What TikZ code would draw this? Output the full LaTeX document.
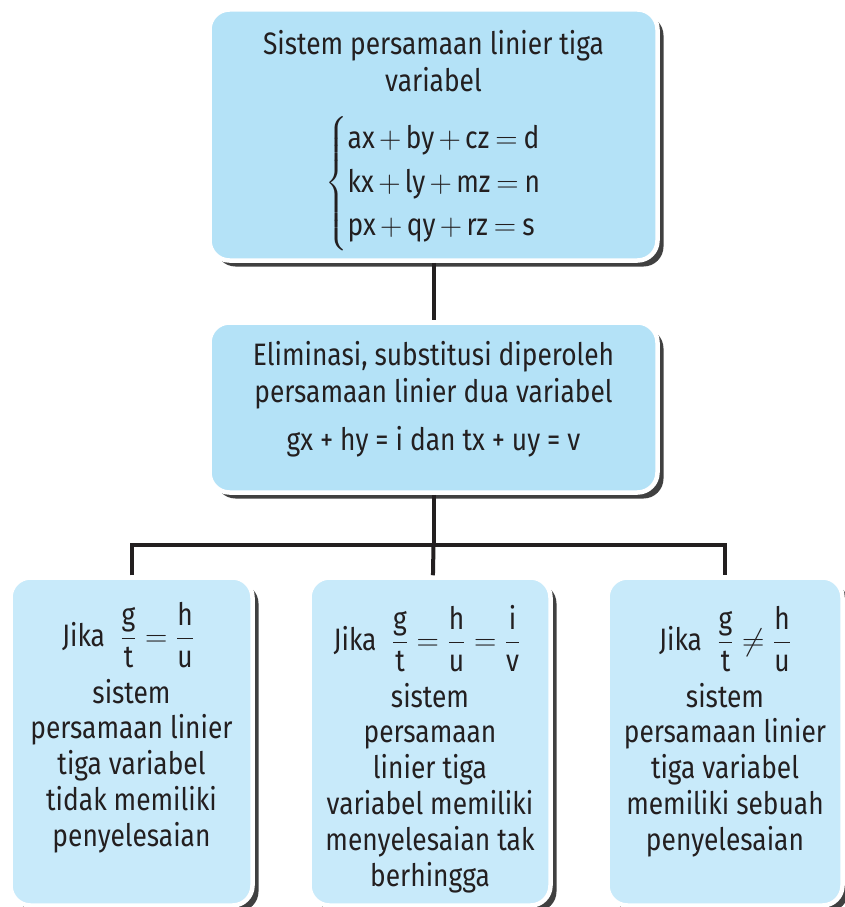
\RequirePackage{fix-cm}
\documentclass[tikz,border=0pt]{standalone}
\usepackage{amsmath}
\usepackage[no-math]{fontspec}
\setmainfont{Fira Sans}[FakeStretch=0.85]
\usetikzlibrary{shadows}
\definecolor{boxblue}{RGB}{180,226,247}
\definecolor{boxlight}{RGB}{200,234,250}
\definecolor{ink}{RGB}{35,31,32}
\tikzset{
	panel/.style={draw=white, line width=4.5pt, rounded corners=20pt, inner sep=0pt,
		drop shadow={shadow xshift=6pt, shadow yshift=-6pt, fill=black!75, opacity=1}},
	link/.style={draw=ink, line width=4pt},
	txt/.style={inner sep=0pt, align=center, text=ink, font=\fontsize{31}{37.5}\selectfont},
	btxt/.style={txt, font=\fontsize{31}{35.8}\selectfont},
}
\begin{document}
\begin{tikzpicture}[x=1pt,y=-1pt]
	\useasboundingbox (0,0) rectangle (844,907);
	\node[panel, fill=boxblue, minimum width=448pt, minimum height=251pt] (sys) at (433.5,135) {};
	\node[panel, fill=boxblue, minimum width=448pt, minimum height=170pt] (elim) at (433.5,407.5) {};
	\node[panel, fill=boxlight, minimum width=242pt, minimum height=328pt] (b1) at (131.5,741.5) {};
	\node[panel, fill=boxlight, minimum width=241pt, minimum height=328pt] (b2) at (430,741.5) {};
	\node[panel, fill=boxlight, minimum width=235pt, minimum height=328pt] (b3) at (725,741.5) {};
	\coordinate (bus) at (433.5,545);
	\draw[link] (sys) -- (elim);
	\draw[link] (elim) -- (bus);
	\draw[link] (b1) |- (bus) -| (b3);
	\draw[link] (bus) -- (b2);
	\node[txt, anchor=north] (systitle) at (433.5,27.75) {\strut Sistem persamaan linier tiga\\variabel};
	\node[txt, anchor=base] (syseq) at (433.5,191) {\medmuskip=2.5mu\thickmuskip=3.5mu
		$\renewcommand{\arraystretch}{1.17}\left\{\begin{array}{@{}l@{}}
		\text{ax}+\text{by}+\text{cz}=\text{d}\\
		\text{kx}+\text{ly}+\text{mz}=\text{n}\\
		\text{px}+\text{qy}+\text{rz}=\text{s}\end{array}\right.$};
	\node[txt, anchor=north] (elimtxt) at (433.5,338.75) {\strut Eliminasi, substitusi diperoleh\\persamaan linier dua variabel};
	\node[txt, anchor=base] (elimeq) at (433.5,450) {gx + hy = i dan tx + uy = v};
	\node[btxt, anchor=base] (if1) at (128,646) {Jika\enspace$\dfrac{\text{g}}{\text{t}}=\dfrac{\text{h}}{\text{u}}$};
	\node[btxt, anchor=base] (if2) at (427,650) {Jika\enspace$\dfrac{\text{g}}{\text{t}}=\dfrac{\text{h}}{\text{u}}=\dfrac{\text{i}}{\text{v}}$};
	\node[btxt, anchor=base] (if3) at (725,650) {Jika\enspace$\dfrac{\text{g}}{\text{t}}\neq\dfrac{\text{h}}{\text{u}}$};
	\node[btxt, anchor=north] (then1) at (131.5,677.9) {\strut sistem\\persamaan linier\\tiga variabel\\tidak memiliki\\penyelesaian};
	\node[btxt, anchor=north] (then2) at (430,681.9) {\strut sistem\\persamaan\\linier tiga\\variabel memiliki\\menyelesaian tak\\berhingga};
	\node[btxt, anchor=north] (then3) at (725,681.9) {\strut sistem\\persamaan linier\\tiga variabel\\memiliki sebuah\\penyelesaian};
\end{tikzpicture}
\end{document}
